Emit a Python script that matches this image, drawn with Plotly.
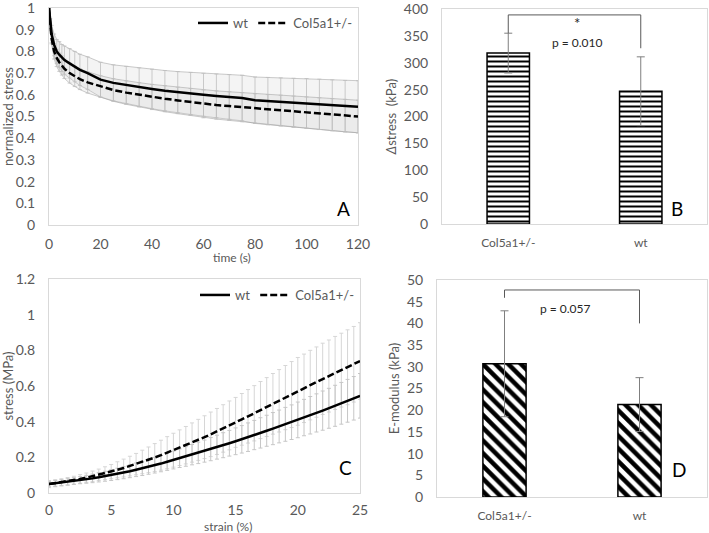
import plotly.graph_objects as go

# ---------------- Panel A: stress relaxation ----------------
time_s = [0, 0.5, 1, 2, 3, 4, 5, 6, 8, 10, 12, 15, 20, 25, 30, 35, 40, 45, 50, 55,
          60, 65, 70, 75, 80, 85, 90, 95, 100, 105, 110, 115, 120]
relax_wt = [1.0, 0.93, 0.88, 0.83, 0.80, 0.785, 0.77, 0.76, 0.745, 0.73, 0.715, 0.70,
            0.67, 0.655, 0.645, 0.635, 0.627, 0.619, 0.612, 0.606, 0.600, 0.595, 0.59,
            0.585, 0.575, 0.571, 0.567, 0.563, 0.56, 0.556, 0.552, 0.548, 0.545]
relax_wt_sd = [0, 0.02, 0.04, 0.05, 0.055, 0.06, 0.062, 0.065, 0.068, 0.07, 0.072, 0.075,
               0.08, 0.083, 0.086, 0.089, 0.091, 0.093, 0.095, 0.097, 0.099, 0.101, 0.103,
               0.105, 0.107, 0.109, 0.111, 0.113, 0.115, 0.116, 0.117, 0.118, 0.12]
relax_col = [1.0, 0.91, 0.86, 0.80, 0.77, 0.75, 0.735, 0.72, 0.70, 0.685, 0.672, 0.657,
             0.638, 0.622, 0.61, 0.60, 0.59, 0.582, 0.574, 0.567, 0.558, 0.553, 0.548,
             0.543, 0.537, 0.532, 0.528, 0.523, 0.518, 0.513, 0.508, 0.504, 0.50]
relax_col_sd = [0, 0.015, 0.025, 0.035, 0.04, 0.042, 0.044, 0.045, 0.046, 0.047, 0.048,
                0.049, 0.05, 0.052, 0.054, 0.056, 0.058, 0.06, 0.061, 0.062, 0.064, 0.065,
                0.066, 0.067, 0.068, 0.069, 0.07, 0.071, 0.072, 0.073, 0.074, 0.075, 0.075]

# ---------------- Panel C: stress-strain ----------------
strain_pct = [0, 0.5, 1, 1.5, 2, 2.5, 3, 3.5, 4, 4.5, 5, 5.5, 6, 6.5, 7, 7.5, 8, 8.5, 9, 9.5,
              10, 10.5, 11, 11.5, 12, 12.5, 13, 13.5, 14, 14.5, 15, 15.5, 16, 16.5, 17, 17.5,
              18, 18.5, 19, 19.5, 20, 20.5, 21, 21.5, 22, 22.5, 23, 23.5, 24, 24.5, 25]
ss_wt = [0.05, 0.054, 0.058, 0.062, 0.067, 0.072, 0.077, 0.082, 0.088, 0.094, 0.10,
         0.107, 0.114, 0.122, 0.13, 0.138, 0.147, 0.156, 0.165, 0.175, 0.185,
         0.195, 0.205, 0.215, 0.225, 0.235, 0.246, 0.257, 0.268, 0.279, 0.29,
         0.301, 0.313, 0.325, 0.337, 0.349, 0.361, 0.373, 0.385, 0.397, 0.41,
         0.423, 0.436, 0.449, 0.462, 0.475, 0.489, 0.503, 0.517, 0.531, 0.545]
ss_wt_sd = [0.015, 0.016, 0.017, 0.018, 0.019, 0.02, 0.022, 0.024, 0.026, 0.028, 0.03,
            0.032, 0.034, 0.036, 0.038, 0.04, 0.042, 0.044, 0.046, 0.048, 0.05,
            0.052, 0.055, 0.057, 0.06, 0.062, 0.065, 0.067, 0.07, 0.072, 0.075,
            0.077, 0.08, 0.082, 0.085, 0.087, 0.09, 0.092, 0.095, 0.097, 0.1,
            0.102, 0.105, 0.107, 0.11, 0.112, 0.115, 0.117, 0.12, 0.122, 0.125]
ss_col = [0.05, 0.055, 0.06, 0.066, 0.072, 0.079, 0.086, 0.094, 0.102, 0.111, 0.12,
          0.13, 0.14, 0.151, 0.162, 0.174, 0.186, 0.199, 0.212, 0.226, 0.24,
          0.254, 0.268, 0.283, 0.298, 0.313, 0.329, 0.345, 0.362, 0.379, 0.396,
          0.413, 0.43, 0.447, 0.465, 0.482, 0.5, 0.517, 0.535, 0.552, 0.57,
          0.587, 0.605, 0.622, 0.64, 0.656, 0.673, 0.689, 0.705, 0.722, 0.74]
ss_col_sd = [0.02, 0.02, 0.02, 0.021, 0.022, 0.024, 0.026, 0.029, 0.032, 0.036, 0.04,
             0.045, 0.05, 0.055, 0.06, 0.066, 0.072, 0.078, 0.084, 0.09, 0.095,
             0.1, 0.105, 0.11, 0.115, 0.12, 0.125, 0.129, 0.133, 0.137, 0.14,
             0.145, 0.15, 0.155, 0.16, 0.165, 0.17, 0.175, 0.18, 0.185, 0.19,
             0.192, 0.195, 0.197, 0.2, 0.202, 0.205, 0.207, 0.21, 0.212, 0.215]

# ---------------- Panels B & D: bars ----------------
groups = ["Col5a1+/-", "wt"]
delta_stress = [318, 247]
delta_stress_sd = [37, 64]
e_modulus = [30.7, 21.3]
e_modulus_sd = [12.2, 6.2]

# significance brackets: [left foot, top, right foot], label heights
bracket_b = [355, 389, 327]
star_b_y, p_b_y = 374, 337
p_b_text = "p = 0.010"
bracket_d = [45.9, 47.7, 40]
p_d_y = 43.5
p_d_text = "p = 0.057"

FONT = "Lato, 'Open Sans', sans-serif"
GRAY_TXT = "#595959"
FRAME = "#d9d9d9"

fig = go.Figure()

def err_trace(x, y, sd, xa, ya, color):
    return go.Scatter(x=x, y=y, mode="markers", marker=dict(size=1, opacity=0),
                      error_y=dict(type="data", array=sd, color=color, thickness=1, width=2),
                      xaxis=xa, yaxis=ya, showlegend=False, hoverinfo="skip")

def band(x, y, sd, xa, ya, edge, fillc):
    up = [a + b for a, b in zip(y, sd)]
    lo = [a - b for a, b in zip(y, sd)]
    return [
        go.Scatter(x=x, y=lo, mode="lines", line=dict(color=edge, width=1),
                   xaxis=xa, yaxis=ya, showlegend=False, hoverinfo="skip"),
        go.Scatter(x=x, y=up, mode="lines", line=dict(color=edge, width=1),
                   fill="tonexty", fillcolor=fillc,
                   xaxis=xa, yaxis=ya, showlegend=False, hoverinfo="skip"),
    ]

# Panel A
for t in band(time_s, relax_wt, relax_wt_sd, "x", "y", "rgba(160,160,160,0.55)", "rgba(205,205,205,0.22)"):
    fig.add_trace(t)
for t in band(time_s, relax_col, relax_col_sd, "x", "y", "rgba(160,160,160,0.55)", "rgba(205,205,205,0.22)"):
    fig.add_trace(t)
fig.add_trace(err_trace(time_s, relax_wt, relax_wt_sd, "x", "y", "rgba(190,190,190,0.8)"))
fig.add_trace(err_trace(time_s, relax_col, relax_col_sd, "x", "y", "rgba(190,190,190,0.8)"))
fig.add_trace(go.Scatter(x=time_s, y=relax_wt, mode="lines", name="wt",
                         line=dict(color="black", width=2.5), xaxis="x", yaxis="y",
                         legend="legend"))
fig.add_trace(go.Scatter(x=time_s, y=relax_col, mode="lines", name="Col5a1+/-",
                         line=dict(color="black", width=2.5, dash="7px,3px"),
                         xaxis="x", yaxis="y", legend="legend"))

# Panel C
fig.add_trace(err_trace(strain_pct, ss_col, ss_col_sd, "x3", "y3", "#d6d6d6"))
fig.add_trace(err_trace(strain_pct, ss_wt, ss_wt_sd, "x3", "y3", "#c6c6c6"))
fig.add_trace(go.Scatter(x=strain_pct, y=ss_wt, mode="lines", name="wt",
                         line=dict(color="black", width=2.5), xaxis="x3", yaxis="y3",
                         legend="legend2"))
fig.add_trace(go.Scatter(x=strain_pct, y=ss_col, mode="lines", name="Col5a1+/-",
                         line=dict(color="black", width=2.5, dash="7px,3px"),
                         xaxis="x3", yaxis="y3", legend="legend2"))

# Panel B
fig.add_trace(go.Bar(x=groups, y=delta_stress, width=0.32, xaxis="x2", yaxis="y2",
                     marker=dict(color="white", line=dict(color="black", width=1.5),
                                 pattern=dict(shape="-", fgcolor="black", bgcolor="white",
                                              fgopacity=1, size=5, solidity=0.4)),
                     error_y=dict(type="data", array=delta_stress_sd, color="#7f7f7f",
                                  thickness=1, width=4),
                     showlegend=False))
# Panel D
fig.add_trace(go.Bar(x=groups, y=e_modulus, width=0.32, xaxis="x4", yaxis="y4",
                     marker=dict(color="white", line=dict(color="black", width=1.5),
                                 pattern=dict(shape="\\", fgcolor="black", bgcolor="white",
                                              fgopacity=1, size=9, solidity=0.5)),
                     error_y=dict(type="data", array=e_modulus_sd, color="#7f7f7f",
                                  thickness=1, width=4),
                     showlegend=False))

axis_common = dict(showgrid=False, zeroline=False, showline=True, linecolor=FRAME,
                   linewidth=1, mirror=True, ticks="", automargin=False,
                   ticklabeloverflow="allow",
                   tickfont=dict(family=FONT, size=14, color=GRAY_TXT))
cat_tickfont = dict(family=FONT, size=12, color=GRAY_TXT)
title_font = dict(family=FONT, size=13, color=GRAY_TXT)
xtitle_font = dict(family=FONT, size=12, color=GRAY_TXT)

dA = dict(x=[49 / 709, 358 / 709], y=[1 - 225 / 533, 1 - 8 / 533])
dB = dict(x=[442 / 709, 707 / 709], y=[1 - 224 / 533, 1 - 9 / 533])
dC = dict(x=[49 / 709, 360 / 709], y=[1 - 493 / 533, 1 - 279 / 533])
dD = dict(x=[437 / 709, 707 / 709], y=[1 - 497 / 533, 1 - 280 / 533])

leg_common = dict(orientation="h", xanchor="right", yanchor="top", traceorder="normal",
                  bgcolor="rgba(0,0,0,0)", font=dict(family=FONT, size=13, color=GRAY_TXT),
                  itemwidth=30, tracegroupgap=0)

fig.update_layout(
    width=709, height=533, margin=dict(l=0, r=0, t=0, b=0, autoexpand=False),
    paper_bgcolor="white", plot_bgcolor="white",
    font=dict(family=FONT, color=GRAY_TXT),
    xaxis=dict(domain=dA["x"], anchor="y", range=[0, 120], dtick=20,
               ticklabelstandoff=6, **axis_common),
    yaxis=dict(domain=dA["y"], anchor="x", range=[0, 1], dtick=0.1,
               ticklabelstandoff=10,
               title=dict(text="normalized stress", font=title_font, standoff=2),
               **axis_common),
    xaxis2=dict(domain=dB["x"], anchor="y2", range=[-0.5, 1.5], type="category",
                ticklabelstandoff=8, **{**axis_common, "tickfont": cat_tickfont}),
    yaxis2=dict(domain=dB["y"], anchor="x2", range=[0, 400], dtick=50,
                ticklabelstandoff=10,
                title=dict(text="<i>Δ</i>stress  (kPa)", font=title_font, standoff=4),
                **axis_common),
    xaxis3=dict(domain=dC["x"], anchor="y3", range=[0, 25], dtick=5,
                ticklabelstandoff=4, **axis_common),
    yaxis3=dict(domain=dC["y"], anchor="x3", range=[0, 1.2], dtick=0.2,
                ticklabelstandoff=10,
                title=dict(text="stress (MPa)", font=title_font, standoff=2),
                **axis_common),
    xaxis4=dict(domain=dD["x"], anchor="y4", range=[-0.5, 1.5], type="category",
                ticklabelstandoff=8, **{**axis_common, "tickfont": cat_tickfont}),
    yaxis4=dict(domain=dD["y"], anchor="x4", range=[0, 50], dtick=5,
                ticklabelstandoff=10,
                title=dict(text="E-modulus (kPa)", font=title_font, standoff=4),
                **axis_common),
    legend=dict(x=dA["x"][1], y=1 - 8 / 533, **leg_common),
    legend2=dict(x=dC["x"][1], y=1 - 280 / 533, **leg_common),
)

# brackets
for (xr, yr, br) in [("x2", "y2", bracket_b), ("x4", "y4", bracket_d)]:
    lc = dict(color="#595959", width=1)
    fig.add_shape(type="line", xref=xr, yref=yr, x0=0, x1=0, y0=br[0], y1=br[1], line=lc)
    fig.add_shape(type="line", xref=xr, yref=yr, x0=0, x1=1, y0=br[1], y1=br[1], line=lc)
    fig.add_shape(type="line", xref=xr, yref=yr, x0=1, x1=1, y0=br[1], y1=br[2], line=lc)

txt = dict(family=FONT, size=12, color="#262626")
fig.add_annotation(x=0.52, y=star_b_y, xref="x2", yref="y2", text="*", showarrow=False,
                   font=dict(family=FONT, size=15, color="#262626"))
fig.add_annotation(x=0.52, y=p_b_y, xref="x2", yref="y2", text=p_b_text, showarrow=False, font=txt)
fig.add_annotation(x=0.45, y=p_d_y, xref="x4", yref="y4", text=p_d_text, showarrow=False, font=txt)

# x-axis titles
fig.add_annotation(x=sum(dA["x"]) / 2 + 0.01, y=1 - 257 / 533, xref="paper", yref="paper",
                   yanchor="middle", text="time (s)", showarrow=False, font=xtitle_font)
fig.add_annotation(x=sum(dC["x"]) / 2 - 0.004, y=1 - 526 / 533, xref="paper", yref="paper",
                   yanchor="middle", text="strain (%)", showarrow=False, font=xtitle_font)

# panel letters
letter_font = dict(family=FONT, size=19, color="black")
for lab, xp, yp in [("A", 343, 208), ("B", 685, 208), ("C", 345, 481), ("D", 688, 483)]:
    fig.add_annotation(x=xp / 709, y=1 - yp / 533, xref="paper", yref="paper",
                       text=lab, showarrow=False, font=letter_font)

fig.write_html("out.html", config={"displayModeBar": False},
               post_script="document.body.style.margin='0px';")
